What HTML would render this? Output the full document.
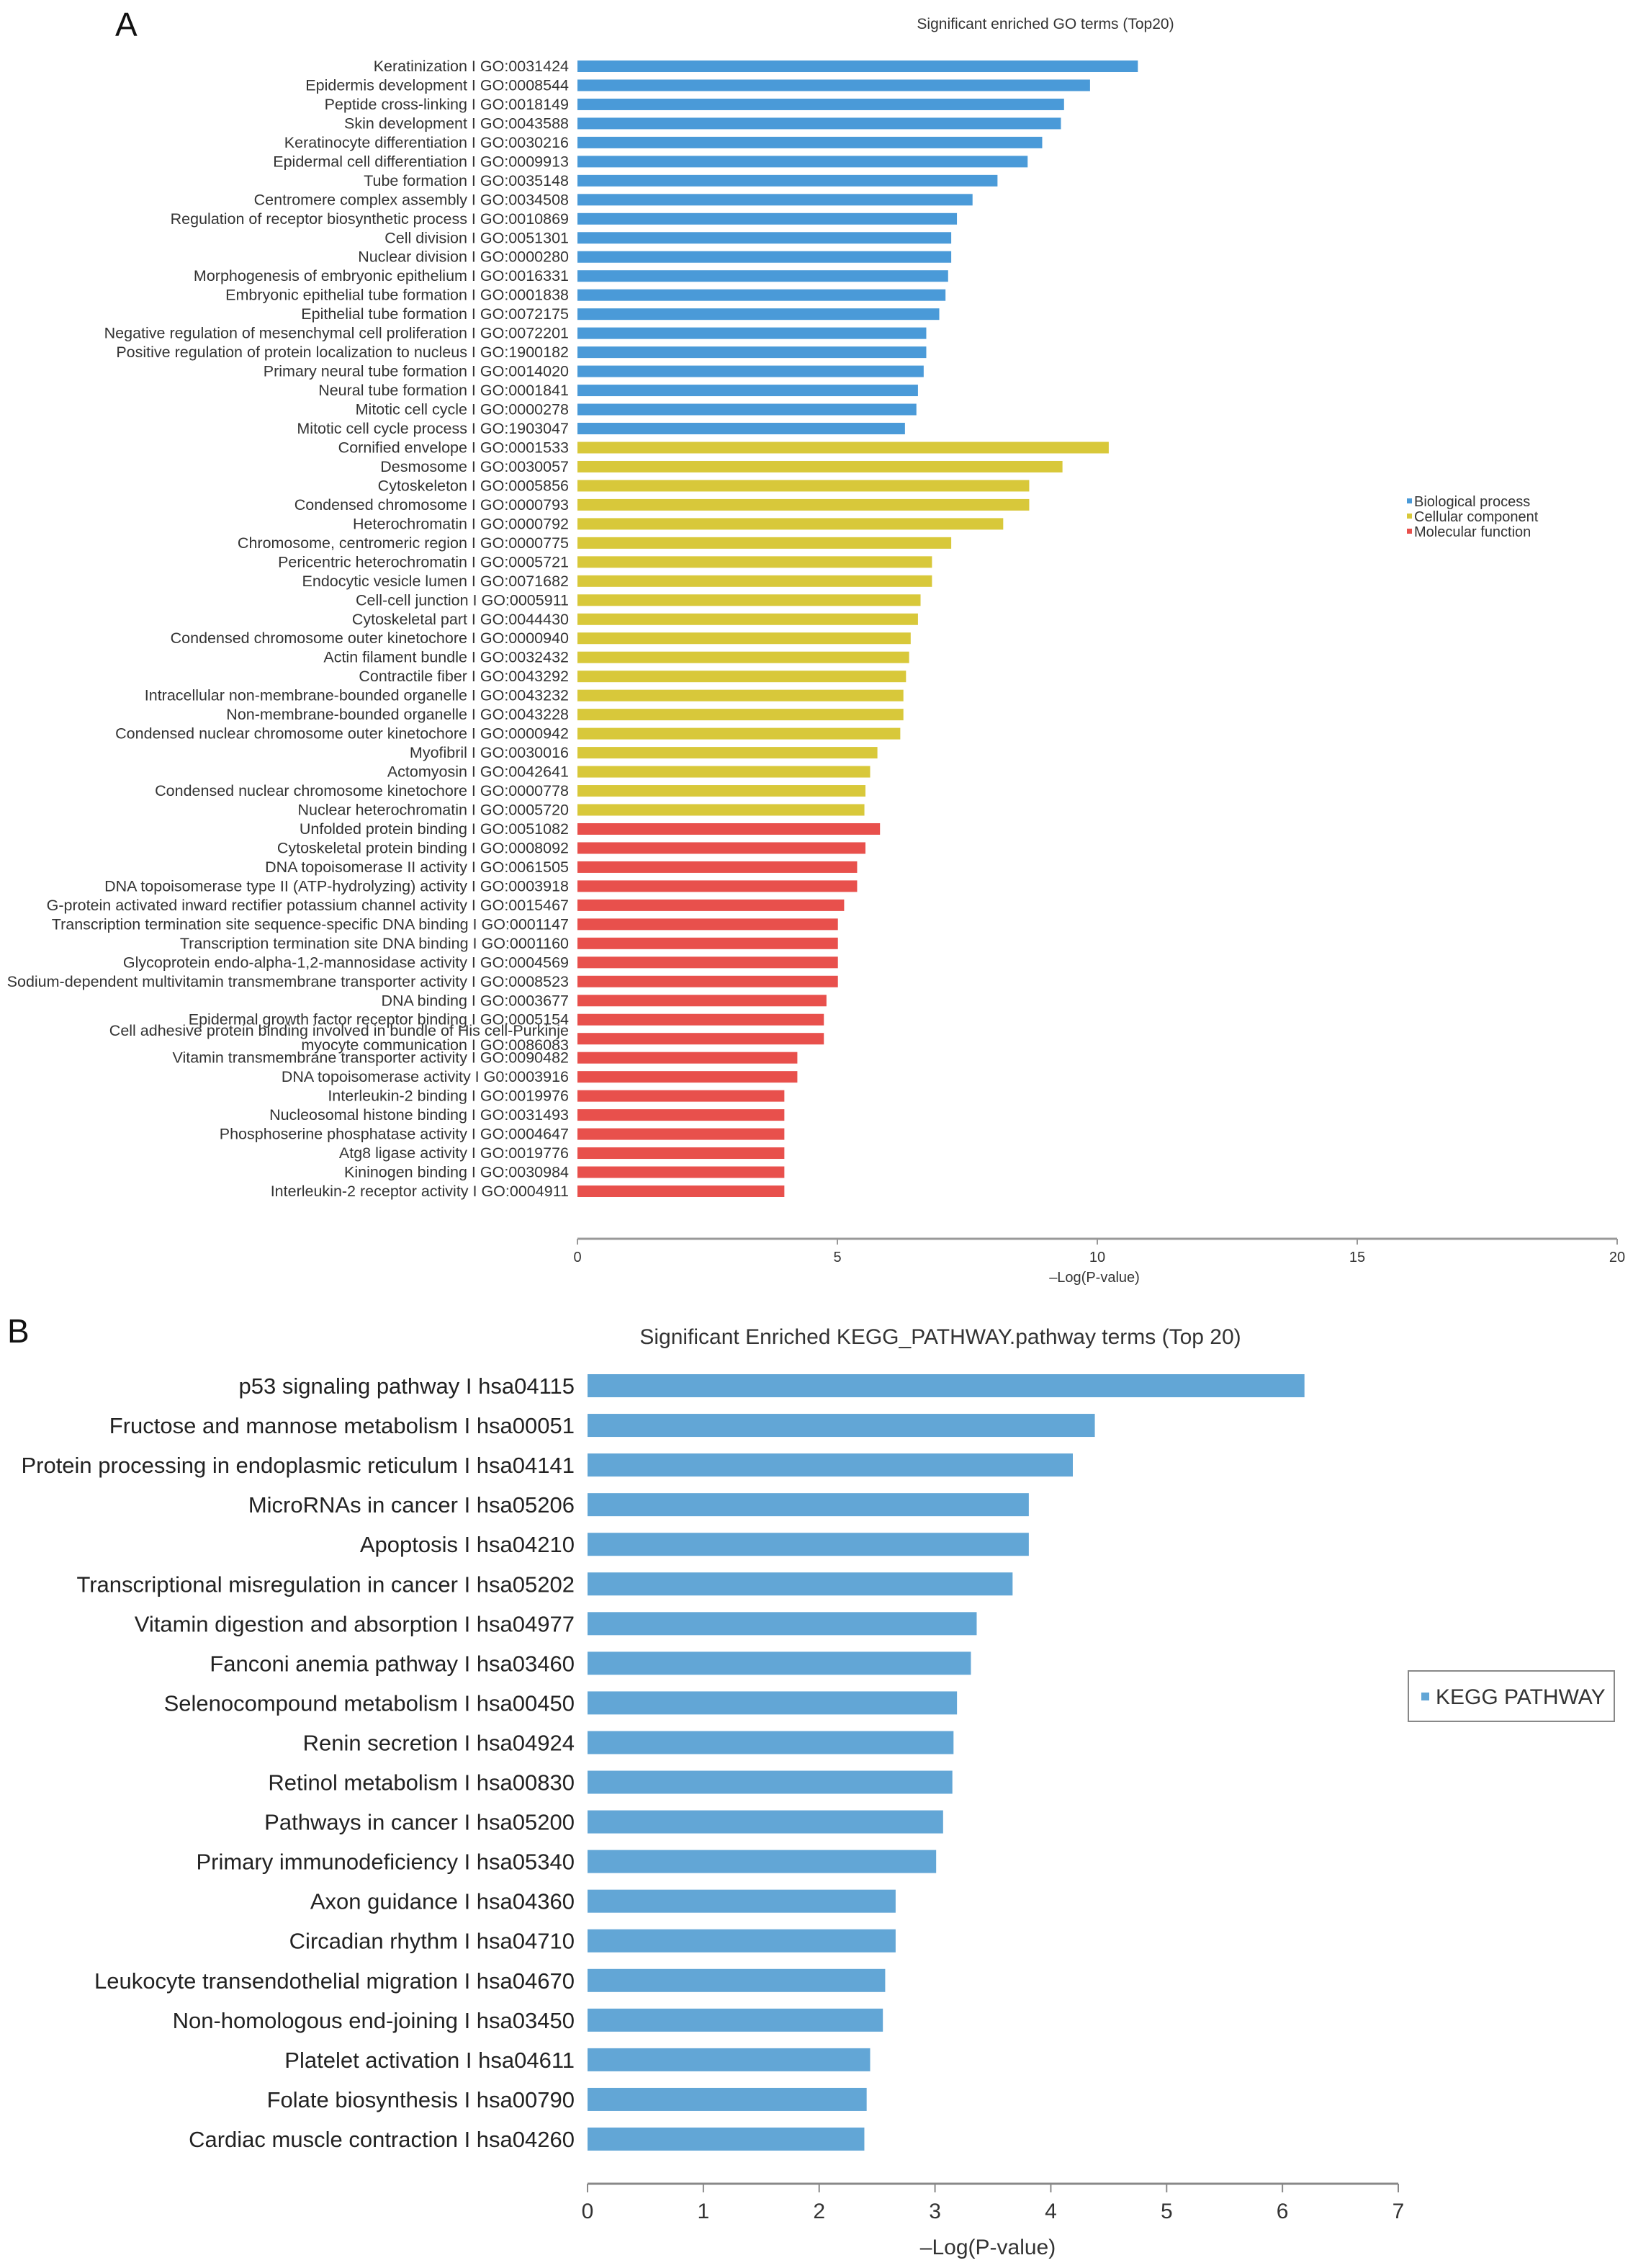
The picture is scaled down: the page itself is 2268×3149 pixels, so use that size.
<!DOCTYPE html>
<html><head><meta charset="utf-8"><style>
html,body{margin:0;padding:0;background:#fff;}
svg{display:block;font-family:"Liberation Sans",sans-serif;}
</style></head><body>
<svg id="chart" width="2268" height="3149" viewBox="0 0 2268 3149" xmlns="http://www.w3.org/2000/svg">
<text x="160" y="50" font-size="46" fill="#111">A</text>
<text x="1452" y="40" font-size="21" fill="#333" text-anchor="middle">Significant enriched GO terms (Top20)</text>
<g id="goBars"></g>
<g id="goAxis"></g>
<text x="1520" y="1780" font-size="20" fill="#333" text-anchor="middle">–Log(P-value)</text>
<g font-size="20" fill="#333">
<rect x="1954" y="692" width="7" height="7" fill="#4a9ad8"/>
<text x="1964" y="703">Biological process</text>
<rect x="1954" y="713" width="7" height="7" fill="#d8c83a"/>
<text x="1964" y="724">Cellular component</text>
<rect x="1954" y="734" width="7" height="7" fill="#e8504c"/>
<text x="1964" y="745">Molecular function</text>
</g>

<text x="10" y="1864" font-size="46" fill="#111">B</text>
<text x="1306" y="1866" font-size="30" fill="#333" text-anchor="middle">Significant Enriched KEGG_PATHWAY.pathway terms (Top 20)</text>
<g id="keggBars"></g>
<g id="keggAxis"></g>
<text x="1372" y="3130" font-size="30" fill="#333" text-anchor="middle">–Log(P-value)</text>
<g>
<rect x="1956" y="2320" width="286" height="70" fill="#fff" stroke="#888" stroke-width="2"/>
<rect x="1974" y="2350" width="11" height="11" fill="#62a6d6"/>
<text x="1994" y="2366" font-size="30" fill="#333">KEGG PATHWAY</text>
</g>
</svg>
<script>
const goLabels = [
"Keratinization I GO:0031424","Epidermis development I GO:0008544","Peptide cross-linking I GO:0018149","Skin development I GO:0043588","Keratinocyte differentiation I GO:0030216","Epidermal cell differentiation I GO:0009913","Tube formation I GO:0035148","Centromere complex assembly I GO:0034508","Regulation of receptor biosynthetic process I GO:0010869","Cell division I GO:0051301","Nuclear division I GO:0000280","Morphogenesis of embryonic epithelium I GO:0016331","Embryonic epithelial tube formation I GO:0001838","Epithelial tube formation I GO:0072175","Negative regulation of mesenchymal cell proliferation I GO:0072201","Positive regulation of protein localization to nucleus I GO:1900182","Primary neural tube formation I GO:0014020","Neural tube formation I GO:0001841","Mitotic cell cycle I GO:0000278","Mitotic cell cycle process I GO:1903047",
"Cornified envelope I GO:0001533","Desmosome I GO:0030057","Cytoskeleton I GO:0005856","Condensed chromosome I GO:0000793","Heterochromatin I GO:0000792","Chromosome, centromeric region I GO:0000775","Pericentric heterochromatin I GO:0005721","Endocytic vesicle lumen I GO:0071682","Cell-cell junction I GO:0005911","Cytoskeletal part I GO:0044430","Condensed chromosome outer kinetochore I GO:0000940","Actin filament bundle I GO:0032432","Contractile fiber I GO:0043292","Intracellular non-membrane-bounded organelle I GO:0043232","Non-membrane-bounded organelle I GO:0043228","Condensed nuclear chromosome outer kinetochore I GO:0000942","Myofibril I GO:0030016","Actomyosin I GO:0042641","Condensed nuclear chromosome kinetochore I GO:0000778","Nuclear heterochromatin I GO:0005720",
"Unfolded protein binding I GO:0051082","Cytoskeletal protein binding I GO:0008092","DNA topoisomerase II activity I GO:0061505","DNA topoisomerase type II (ATP-hydrolyzing) activity I GO:0003918","G-protein activated inward rectifier potassium channel activity I GO:0015467","Transcription termination site sequence-specific DNA binding I GO:0001147","Transcription termination site DNA binding I GO:0001160","Glycoprotein endo-alpha-1,2-mannosidase activity I GO:0004569","Sodium-dependent multivitamin transmembrane transporter activity I GO:0008523","DNA binding I GO:0003677","Epidermal growth factor receptor binding I GO:0005154","Cell adhesive protein binding involved in bundle of His cell-Purkinje|myocyte communication I GO:0086083","Vitamin transmembrane transporter activity I GO:0090482","DNA topoisomerase activity I G0:0003916","Interleukin-2 binding I GO:0019976","Nucleosomal histone binding I GO:0031493","Phosphoserine phosphatase activity I GO:0004647","Atg8 ligase activity I GO:0019776","Kininogen binding I GO:0030984","Interleukin-2 receptor activity I GO:0004911"];
const goValues = [10.78,9.86,9.36,9.30,8.94,8.66,8.08,7.60,7.30,7.19,7.19,7.13,7.08,6.96,6.71,6.71,6.66,6.55,6.52,6.30,
10.22,9.33,8.69,8.69,8.19,7.19,6.82,6.82,6.60,6.55,6.41,6.38,6.32,6.27,6.27,6.21,5.77,5.63,5.54,5.52,
5.82,5.54,5.38,5.38,5.13,5.01,5.01,5.01,5.01,4.79,4.74,4.74,4.23,4.23,3.98,3.98,3.98,3.98,3.98,3.98];
const goCategories = ["bp","cc","mf"];
const goCategoryCounts = [20,20,20];
const goTicks = [0,5,10,15,20];

const keggLabels = ["p53 signaling pathway I hsa04115","Fructose and mannose metabolism I hsa00051","Protein processing in endoplasmic reticulum I hsa04141","MicroRNAs in cancer I hsa05206","Apoptosis I hsa04210","Transcriptional misregulation in cancer I hsa05202","Vitamin digestion and absorption I hsa04977","Fanconi anemia pathway I hsa03460","Selenocompound metabolism I hsa00450","Renin secretion I hsa04924","Retinol metabolism I hsa00830","Pathways in cancer I hsa05200","Primary immunodeficiency I hsa05340","Axon guidance I hsa04360","Circadian rhythm I hsa04710","Leukocyte transendothelial migration I hsa04670","Non-homologous end-joining I hsa03450","Platelet activation I hsa04611","Folate biosynthesis I hsa00790","Cardiac muscle contraction I hsa04260"];
const keggValues = [6.19,4.38,4.19,3.81,3.81,3.67,3.36,3.31,3.19,3.16,3.15,3.07,3.01,2.66,2.66,2.57,2.55,2.44,2.41,2.39];
const keggTicks = [0,1,2,3,4,5,6,7];

const NS="http://www.w3.org/2000/svg";
function mk(tag, attrs, parent){const e=document.createElementNS(NS,tag);for(const k in attrs)e.setAttribute(k,attrs[k]);parent.appendChild(e);return e;}
const catColor={bp:"#4a9ad8",cc:"#d8c83a",mf:"#e8504c"};

// GO chart
const goX0=802, goX1=2246, goMax=20;
const goX=v=>goX0+(goX1-goX0)*v/goMax;
const goYFirst=92, goStep=(1654-92)/59, goH=16;
const goY=i=>goYFirst+i*goStep;
const gb=document.getElementById('goBars');
let idx=0;
goCategories.forEach((c,ci)=>{
  for(let j=0;j<goCategoryCounts[ci];j++){
    const i=idx++;
    const cy=goY(i);
    const r=mk('rect',{x:goX0,y:cy-goH/2,width:goX(goValues[i])-goX0,height:goH,fill:catColor[c]},gb);
    
    
    const parts=goLabels[i].split('|');
    if(parts.length===1){
      const t=mk('text',{x:790,y:cy+7,'font-size':21.5,fill:'#333','text-anchor':'end'},gb);
      t.textContent=parts[0];
      
      
    } else {
      parts.forEach((p,k)=>{
        const t=mk('text',{x:790,y:cy-4+k*20,'font-size':21.5,fill:'#333','text-anchor':'end'},gb);
        t.textContent=p;
        
        
      });
    }
  }
});
const ga=document.getElementById('goAxis');
const gl=mk('line',{x1:goX0,y1:1720,x2:goX1,y2:1720,stroke:'#999','stroke-width':3},ga);


goTicks.forEach(v=>{
  const tk=mk('line',{x1:goX(v),y1:1720,x2:goX(v),y2:1728,stroke:'#999','stroke-width':2},ga);
  
  
  const t=mk('text',{x:goX(v),y:1752,'font-size':20,fill:'#333','text-anchor':'middle'},ga);
  t.textContent=v;
  
  
});

// KEGG chart
const kX0=816, kX1=1942, kMax=7;
const kX=v=>kX0+(kX1-kX0)*v/kMax;
const kYFirst=1924, kStep=(2970-1924)/19, kH=32;
const kb=document.getElementById('keggBars');
keggValues.forEach((v,i)=>{
  const cy=kYFirst+i*kStep;
  const r=mk('rect',{x:kX0,y:cy-kH/2,width:kX(v)-kX0,height:kH,fill:'#62a6d6'},kb);
  
  
  const t=mk('text',{x:798,y:cy+11,'font-size':31,fill:'#222','text-anchor':'end'},kb);
  t.textContent=keggLabels[i];
  
  
});
const ka=document.getElementById('keggAxis');
const kl=mk('line',{x1:kX0,y1:3032,x2:kX1,y2:3032,stroke:'#888','stroke-width':3},ka);


keggTicks.forEach(v=>{
  const tk=mk('line',{x1:kX(v),y1:3032,x2:kX(v),y2:3044,stroke:'#888','stroke-width':2},ka);
  
  
  const t=mk('text',{x:kX(v),y:3080,'font-size':30,fill:'#333','text-anchor':'middle'},ka);
  t.textContent=v;
  
  
});
</script>
</body></html>
